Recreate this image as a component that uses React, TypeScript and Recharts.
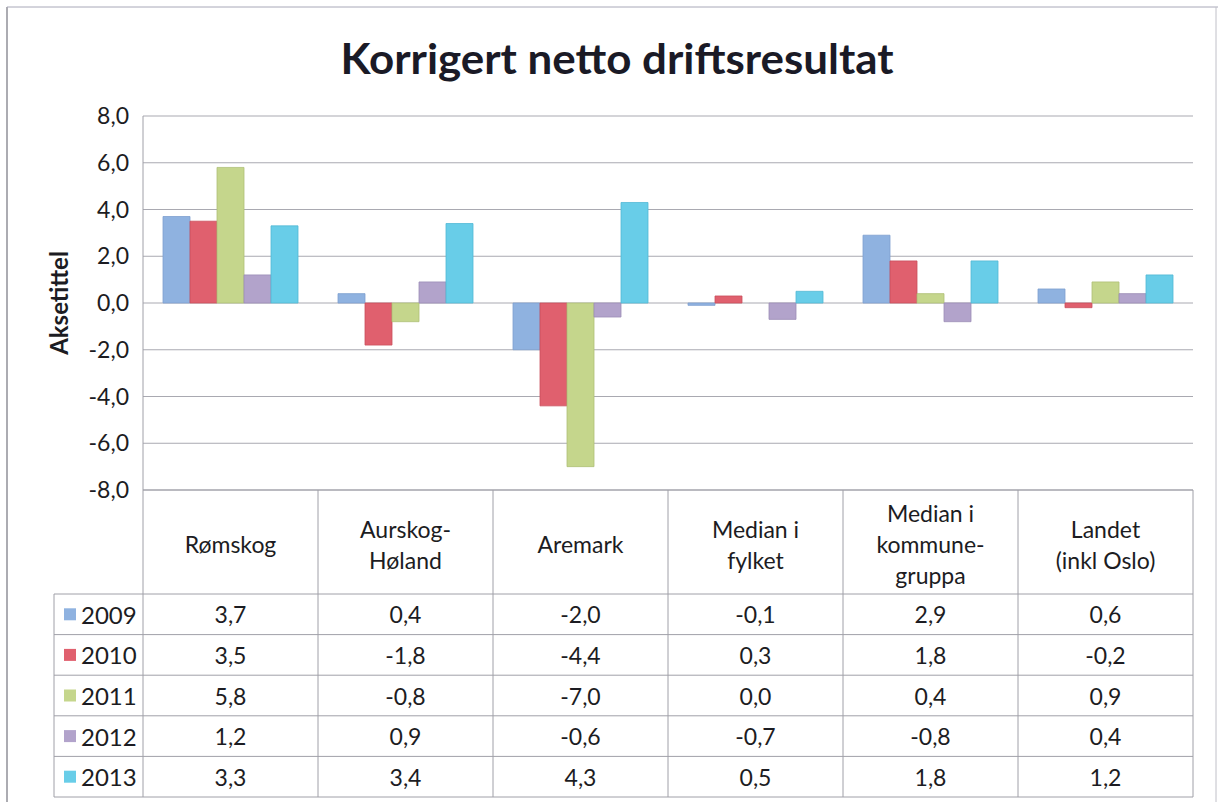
import React from 'react';
import { BarChart, Bar, XAxis, YAxis, CartesianGrid } from 'recharts';

const categories = ['Rømskog', 'Aurskog-\nHøland', 'Aremark', 'Median i\nfylket', 'Median i\nkommune-\ngruppa', 'Landet\n(inkl Oslo)'];
const years = ['2009', '2010', '2011', '2012', '2013'];
const v2009 = [3.7, 0.4, -2.0, -0.1, 2.9, 0.6];
const v2010 = [3.5, -1.8, -4.4, 0.3, 1.8, -0.2];
const v2011 = [5.8, -0.8, -7.0, 0.0, 0.4, 0.9];
const v2012 = [1.2, 0.9, -0.6, -0.7, -0.8, 0.4];
const v2013 = [3.3, 3.4, 4.3, 0.5, 1.8, 1.2];
const yTicks = [-8, -6, -4, -2, 0, 2, 4, 6, 8];
const colors = ['#8fb2e0', '#e0606e', '#c5d68c', '#b2a3cb', '#68cde8'];
const strokes = ['#7d9fcf', '#c94e5c', '#aebf76', '#9c8db6', '#52b8d4'];

const series = [v2009, v2010, v2011, v2012, v2013];
const data = categories.map((c, i) => {
  const row: any = { name: c };
  years.forEach((y, k) => { row[y] = series[k][i]; });
  return row;
});

const W = 1218;
const H = 802;
const M_LEFT = 53;
const Y_W = 90;
const M_RIGHT = 25;
const M_TOP = 116;
const X_H = 312;
const PLOT_W = W - M_LEFT - Y_W - M_RIGHT;
const CAT_W = PLOT_W / categories.length;
const HEADER_H = 104;
const ROW_H = 40.6;
const LEGEND_W = 89;
const FONT = 'Lato, "Open Sans", sans-serif';
const LINE = '#a0a0a8';
const TXT = '#1c1c22';
const FS = 23;

const fmt = (v: number) => v.toFixed(1).replace('.', ',');

const TableTick = (props: any) => {
  const { x, y, payload, index } = props;
  const left = x - CAT_W / 2;
  const right = x + CAT_W / 2;
  const lines = String(payload.value).split('\n');
  const lh = 31;
  const hc = y + HEADER_H / 2 + 2;
  const els: any[] = [];
  const bottom = y + HEADER_H + ROW_H * years.length;
  els.push(<line key="vl" x1={left} x2={left} y1={y} y2={bottom} stroke={LINE} />);
  if (index === categories.length - 1) {
    els.push(<line key="vr" x1={right} x2={right} y1={y} y2={bottom} stroke={LINE} />);
  }
  els.push(<line key="ht" x1={left} x2={right} y1={y} y2={y} stroke={LINE} />);
  lines.forEach((ln, i) => {
    els.push(
      <text key={'h' + i} x={x} y={hc + (i - (lines.length - 1) / 2) * lh} textAnchor="middle" dominantBaseline="central" fontSize={FS} fill={TXT} fontFamily={FONT}>{ln}</text>
    );
  });
  for (let r = 0; r <= years.length; r++) {
    const yy = y + HEADER_H + r * ROW_H;
    els.push(<line key={'hr' + r} x1={left} x2={right} y1={yy} y2={yy} stroke={LINE} />);
  }
  years.forEach((yr, r) => {
    const cy = y + HEADER_H + (r + 0.5) * ROW_H;
    els.push(
      <text key={'v' + r} x={x} y={cy} textAnchor="middle" dominantBaseline="central" fontSize={FS} fill={TXT} fontFamily={FONT}>{fmt(series[r][index])}</text>
    );
  });
  if (index === 0) {
    const lx = left - LEGEND_W;
    els.push(<line key="lvl" x1={lx} x2={lx} y1={y + HEADER_H} y2={bottom} stroke={LINE} />);
    for (let r = 0; r <= years.length; r++) {
      const yy = y + HEADER_H + r * ROW_H;
      els.push(<line key={'lhr' + r} x1={lx} x2={left} y1={yy} y2={yy} stroke={LINE} />);
    }
    years.forEach((yr, r) => {
      const cy = y + HEADER_H + (r + 0.5) * ROW_H;
      els.push(<rect key={'sq' + r} x={lx + 10} y={cy - 6} width={12} height={12} fill={colors[r]} />);
      els.push(
        <text key={'yr' + r} x={lx + 27} y={cy} textAnchor="start" dominantBaseline="central" fontSize={24} fill={TXT} fontFamily={FONT}>{yr}</text>
      );
    });
  }
  return <g>{els}</g>;
};

const AxisTitle = (props: any) => {
  const vb = props.viewBox || {};
  const cx = vb.x + 5;
  const cy = vb.y + vb.height / 2;
  return (
    <text x={cx} y={cy} transform={`rotate(-90, ${cx}, ${cy})`} textAnchor="middle" dominantBaseline="central" fontSize={24} fontWeight={700} fill={TXT} fontFamily={FONT}>Aksetittel</text>
  );
};

export default function App() {
  return (
    <div style={{ position: 'absolute', left: 0, top: 0, width: W, height: H, background: '#fff', overflow: 'hidden' }}>
      <svg width={W} height={H} style={{ position: 'absolute', left: 0, top: 0 }}>
        <line x1={7} x2={7} y1={7} y2={H} stroke="#909098" strokeWidth={1.5} />
        <line x1={7} x2={W} y1={7} y2={7} stroke="#a8a8b8" strokeWidth={1} />
        <line x1={1216} x2={1216} y1={7} y2={H} stroke="#c0c0c8" strokeWidth={1} />
        <text x={617} y={58} textAnchor="middle" dominantBaseline="central" fontSize={42} fontWeight={700} fill="#1a1a26" fontFamily={FONT} textLength={553} lengthAdjust="spacingAndGlyphs">Korrigert netto driftsresultat</text>
      </svg>
      <div style={{ position: 'absolute', left: 0, top: 0 }}>
        <BarChart width={W} height={H} data={data} margin={{ top: M_TOP, right: M_RIGHT, left: M_LEFT, bottom: 0 }} barCategoryGap={20} barGap={0}>
          <CartesianGrid vertical={false} stroke={LINE} strokeOpacity={0.9} />
          <XAxis dataKey="name" height={X_H} axisLine={false} tickLine={false} tickSize={0} tickMargin={0} interval={0} tick={<TableTick />} />
          <YAxis width={Y_W} domain={[-8, 8]} ticks={yTicks} interval={0} tickFormatter={fmt} axisLine={{ stroke: LINE }} tickLine={false} tickMargin={8} tick={{ fontSize: FS, fill: TXT, fontFamily: FONT }} label={<AxisTitle />} allowDataOverflow />
          {years.map((yr, k) => (
            <Bar key={yr} dataKey={yr} fill={colors[k]} stroke={strokes[k]} strokeWidth={0.8} isAnimationActive={false} />
          ))}
        </BarChart>
      </div>
    </div>
  );
}
